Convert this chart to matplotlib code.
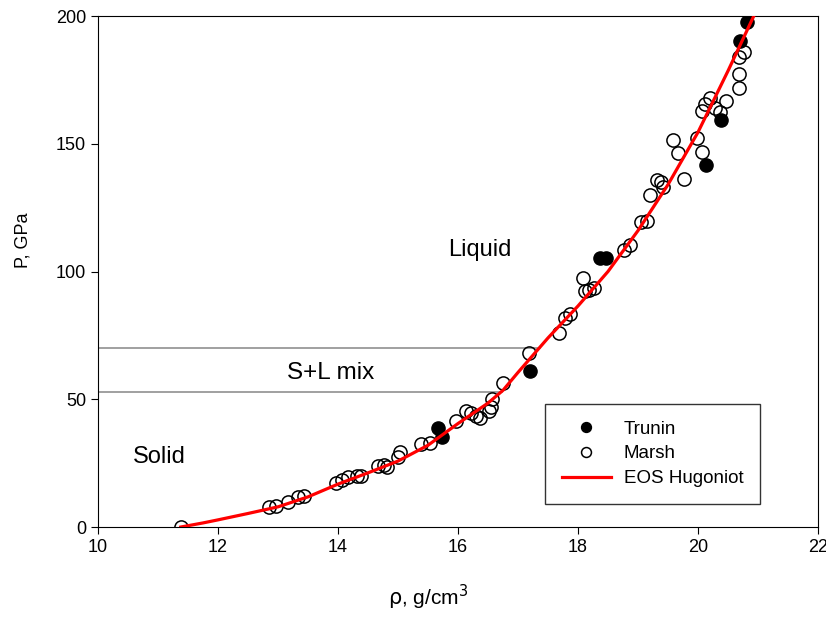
import numpy as np
import matplotlib
matplotlib.use("Agg")
import matplotlib.pyplot as plt

plt.rcParams['font.family'] = ['Liberation Sans', 'DejaVu Sans']

# Marsh data (open circles): density g/cm3, pressure GPa
marsh_rho = [11.38, 12.85, 12.97, 13.16, 13.33, 13.44, 13.96, 14.07, 14.17, 14.31,
             14.39, 14.66, 14.77, 14.82, 15.00, 15.03, 15.39, 15.54, 15.97, 16.13,
             16.21, 16.30, 16.37, 16.52, 16.55, 16.56, 16.75, 17.18, 17.69, 17.78,
             17.87, 18.09, 18.12, 18.18, 18.27, 18.77, 18.86, 19.05, 19.15, 19.20,
             19.31, 19.38, 19.41, 19.59, 19.67, 19.77, 19.98, 20.06, 20.07, 20.12,
             20.20, 20.28, 20.37, 20.47, 20.69, 20.69, 20.69, 20.76]
marsh_p = [0.0, 8.0, 8.2, 9.8, 11.6, 12.0, 17.3, 18.5, 19.4, 19.8,
           20.0, 24.0, 24.3, 23.5, 27.3, 29.5, 32.4, 32.8, 41.5, 45.5,
           44.5, 43.6, 42.8, 45.5, 46.8, 50.1, 56.3, 68.2, 76.0, 82.0,
           83.4, 97.3, 92.4, 92.8, 93.4, 108.4, 110.2, 119.5, 119.8, 130.0,
           135.8, 135.2, 133.0, 151.5, 146.5, 136.3, 152.2, 146.9, 162.8, 165.5,
           168.0, 163.9, 162.5, 166.7, 171.7, 177.3, 183.8, 186.0]

# Trunin data (filled circles)
trunin_rho = [15.66, 15.74, 17.20, 18.36, 18.47, 20.14, 20.38, 20.70, 20.81]
trunin_p = [38.6, 35.3, 61.0, 105.2, 105.2, 141.5, 159.2, 190.3, 197.5]

# EOS Hugoniot curve
eos_rho = [11.38, 11.75, 12.0, 12.5, 13.0, 13.5, 14.0, 14.5, 15.0, 15.5,
           16.0, 16.5, 16.75, 17.0, 17.5, 18.0, 18.5, 19.0, 19.5, 20.0,
           20.5, 20.95]
eos_p = [0.0, 1.6, 2.8, 5.3, 7.9, 11.8, 16.8, 21.2, 25.8, 32.0,
         40.5, 48.5, 53.5, 60.5, 74.0, 86.5, 100.0, 116.0, 134.0, 154.5,
         178.5, 201.0]

# mixed-phase boundaries
mix_p = [53.0, 70.0]
mix_end = [16.73, 17.37]

fig = plt.figure(figsize=(8.26, 6.18), dpi=100)
ax = fig.add_axes([0.1186, 0.1472, 0.8717, 0.8269])

for p, xe in zip(mix_p, mix_end):
    ax.plot([10, xe], [p, p], color='#909090', lw=1.2, zorder=1)

ax.plot(marsh_rho, marsh_p, 'o', ms=9.5, mfc='none', mec='black', mew=1.1,
        label='Marsh', zorder=2)
ax.plot(trunin_rho, trunin_p, 'o', ms=9.5, mfc='black', mec='black',
        label='Trunin', zorder=2)
ax.plot(eos_rho, eos_p, color='red', lw=2.3, label='EOS Hugoniot', zorder=3)

ax.text(16.37, 108.4, 'Liquid', fontsize=17, ha='center', va='center')
ax.text(13.87, 60.3, 'S+L mix', fontsize=17.5, ha='center', va='center')
ax.text(11.03, 27.4, 'Solid', fontsize=17, ha='center', va='center')

ax.set_xlim(10, 22)
ax.set_ylim(0, 200)
ax.set_xticks(np.arange(10, 23, 2))
ax.set_yticks(np.arange(0, 201, 50))
ax.tick_params(direction='out', length=5, labelsize=13)
ax.set_xlabel(r'$\rm\rho$, g/cm$^3$', fontsize=15)
ax.set_ylabel('P, GPa', fontsize=13)
ax.xaxis.set_label_coords(0.458, -0.110)
ax.yaxis.set_label_coords(-0.093, 0.562)

h, l = ax.get_legend_handles_labels()
order = [1, 0, 2]
leg = ax.legend([h[i] for i in order], [l[i] for i in order],
                loc='upper left', bbox_to_anchor=(0.621, 0.241),
                fontsize=13.5, frameon=True, fancybox=False, edgecolor='black',
                borderpad=0.9, handlelength=2.6, handletextpad=0.7,
                labelspacing=0.4, markerscale=0.75, borderaxespad=0)
leg.get_frame().set_linewidth(1.0)

fig.savefig('out.png', dpi=100)
